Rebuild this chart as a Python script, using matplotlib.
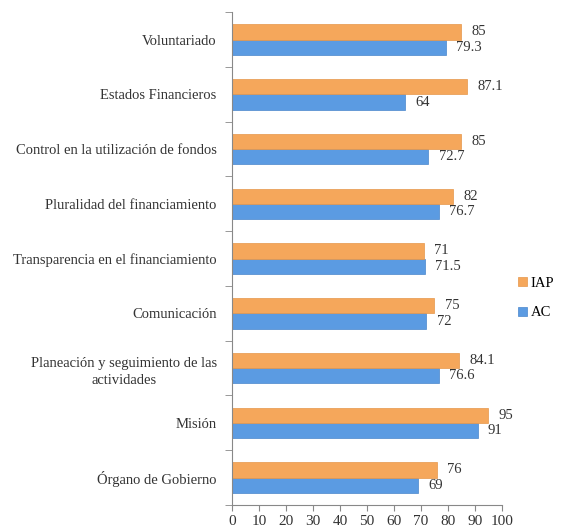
import matplotlib
matplotlib.use('Agg')
import matplotlib.pyplot as plt
import numpy as np

plt.rcParams['font.family'] = ['Liberation Serif', 'DejaVu Serif']

categorias = ['Órgano de Gobierno', 'Misión',
              'Planeación y seguimiento de las\nactividades', 'Comunicación',
              'Transparencia en el financiamiento', 'Pluralidad del financiamiento',
              'Control en la utilización de fondos', 'Estados Financieros', 'Voluntariado']
iap = [76, 95, 84.1, 75, 71, 82, 85, 87.1, 85]
ac = [69, 91, 76.6, 72, 71.5, 76.7, 72.7, 64, 79.3]
iap_txt = ['76', '95', '84.1', '75', '71', '82', '85', '87.1', '85']
ac_txt = ['69', '91', '76.6', '72', '71.5', '76.7', '72.7', '64', '79.3']

fig = plt.figure(figsize=(5.72, 5.31), dpi=100)
ax = fig.add_axes([0.4056, 0.049, 0.472, 0.928])

y = np.arange(len(categorias))
h = 0.28
b_ac = ax.barh(y - h / 2, ac, height=h, color='#5b9be2', edgecolor='#4a86cc', linewidth=0.5, label='AC')
b_iap = ax.barh(y + h / 2, iap, height=h, color='#f5a75b', edgecolor='#e6964a', linewidth=0.5, label='IAP')

for i in range(len(categorias)):
    ax.text(iap[i] + 3.8, y[i] + h / 2, iap_txt[i], va='center', ha='left', fontsize=10.5, color='#333333')
    ax.text(ac[i] + 3.8, y[i] - h / 2, ac_txt[i], va='center', ha='left', fontsize=10.5, color='#333333')

ax.set_xlim(0, 100)
ax.set_ylim(-0.5, len(categorias) - 0.5)
ax.set_xticks(range(0, 101, 10))
ax.set_yticks(y)
ax.set_yticklabels(categorias, fontsize=10.5, color='#333333', multialignment='center', linespacing=1.45)
ax.set_yticks(np.arange(-0.5, len(categorias), 1), minor=True)
ax.tick_params(axis='y', which='major', length=0, pad=11)
ax.tick_params(axis='y', which='minor', length=5, color='#888888')
ax.tick_params(axis='x', length=4, color='#888888', labelsize=11, labelcolor='#333333')
for s in ['top', 'right']:
    ax.spines[s].set_visible(False)
ax.spines['left'].set_color('#888888')
ax.spines['bottom'].set_color('#888888')

ax.legend(handles=[b_iap, b_ac], loc='center left', bbox_to_anchor=(1.01, 0.42), frameon=False,
          fontsize=10.5, handlelength=0.6, handleheight=0.6, handletextpad=0.3, labelspacing=1.15)

fig.savefig('out.png', dpi=100)
